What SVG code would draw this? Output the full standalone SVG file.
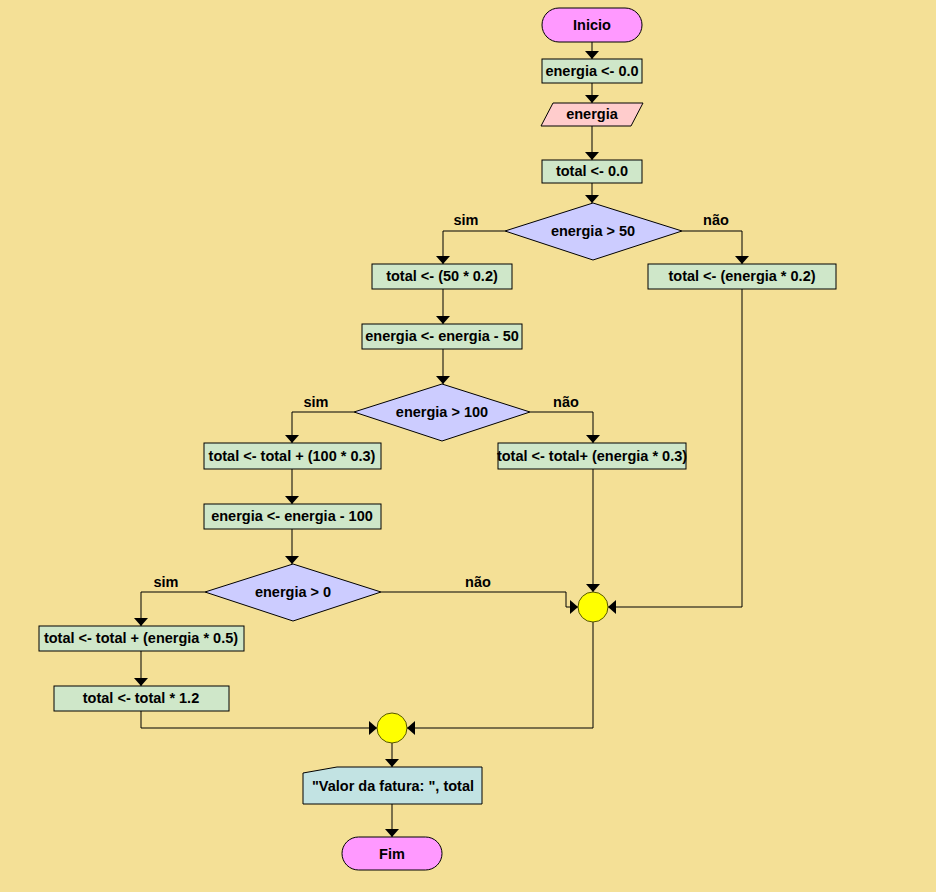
<svg xmlns="http://www.w3.org/2000/svg" width="936" height="892" viewBox="0 0 936 892">
  <style>
    text { font-family: "Liberation Sans", Arial, sans-serif; font-weight: bold; font-size: 14.5px; fill: #000; text-anchor: middle; }
    .term { fill: #FF99FF; stroke: #000; stroke-width: 1; }
    .proc { fill: #CFE7C9; stroke: #000; stroke-width: 1; }
    .inp { fill: #FFCCCC; stroke: #000; stroke-width: 1; }
    .dec { fill: #CCCCFF; stroke: #000; stroke-width: 1; }
    .join { fill: #FFFF00; stroke: #555500; stroke-width: 1; }
    .out { fill: #C2E3E3; stroke: #000; stroke-width: 1; }
    .edge { fill: none; stroke: #000; stroke-width: 1; marker-end: url(#arrow); }
  </style>
  <defs>
    <marker id="arrow" markerUnits="userSpaceOnUse" markerWidth="16" markerHeight="16" refX="8" refY="7" orient="auto">
      <path d="M0,0 L8,7 L0,14 Z" fill="#000"/>
    </marker>
  </defs>

  <rect width="936" height="892" fill="#F4E096"/>

  <!-- connectors -->
  <g id="connectors">
    <path class="edge" d="M592,42 V59"/>
    <path class="edge" d="M592,83 V103"/>
    <path class="edge" d="M592,126 V160"/>
    <path class="edge" d="M592,183 V203"/>
    <path class="edge" d="M505,231 H443 V264"/>
    <path class="edge" d="M682,231 H742 V264"/>
    <path class="edge" d="M443,289 V324"/>
    <path class="edge" d="M443,349 V384"/>
    <path class="edge" d="M354,412 H292 V443"/>
    <path class="edge" d="M530,412 H593 V443"/>
    <path class="edge" d="M292,469 V504"/>
    <path class="edge" d="M292,529 V564"/>
    <path class="edge" d="M205,592 H141 V626"/>
    <path class="edge" d="M141,651 V686"/>
    <path class="edge" d="M381,592 H566 V607 H578"/>
    <path class="edge" d="M593,469 V592"/>
    <path class="edge" d="M742,289 V607 H608"/>
    <path class="edge" d="M593,622 V728 H407"/>
    <path class="edge" d="M141,711 V728 H377"/>
    <path class="edge" d="M392,743 V767"/>
    <path class="edge" d="M392,804 V837"/>
    <text x="466" y="225">sim</text>
    <text x="716" y="225">não</text>
    <text x="316" y="407">sim</text>
    <text x="566" y="407">não</text>
    <text x="166" y="587">sim</text>
    <text x="478" y="587">não</text>
  </g>

  <g id="inicio">
    <rect class="term" x="542" y="8" width="100" height="34" rx="17"/>
    <text x="592" y="30">Inicio</text>
  </g>
  <g id="energia-zero">
    <rect class="proc" x="542" y="59" width="100" height="24"/>
    <text x="592" y="76">energia &lt;- 0.0</text>
  </g>
  <g id="ler-energia">
    <polygon class="inp" points="553,103 643,103 631,126 541,126"/>
    <text x="592" y="119">energia</text>
  </g>
  <g id="total-zero">
    <rect class="proc" x="542" y="160" width="100" height="23"/>
    <text x="592" y="176">total &lt;- 0.0</text>
  </g>
  <g id="dec-50">
    <polygon class="dec" points="593,203 682,231 593,260 505,231"/>
    <text x="593" y="236">energia &gt; 50</text>
  </g>
  <g id="total-50">
    <rect class="proc" x="372" y="264" width="140" height="25"/>
    <text x="442" y="281">total &lt;- (50 * 0.2)</text>
  </g>
  <g id="total-energia-02">
    <rect class="proc" x="648" y="264" width="188" height="25"/>
    <text x="742" y="281">total &lt;- (energia * 0.2)</text>
  </g>
  <g id="energia-menos-50">
    <rect class="proc" x="362" y="324" width="160" height="25"/>
    <text x="442" y="341">energia &lt;- energia - 50</text>
  </g>
  <g id="dec-100">
    <polygon class="dec" points="442,384 530,412 442,441 354,412"/>
    <text x="442" y="417">energia &gt; 100</text>
  </g>
  <g id="total-100">
    <rect class="proc" x="204" y="443" width="177" height="26"/>
    <text x="292" y="461">total &lt;- total + (100 * 0.3)</text>
  </g>
  <g id="total-energia-03">
    <rect class="proc" x="498" y="443" width="188" height="26"/>
    <text x="592" y="461">total &lt;- total+ (energia * 0.3)</text>
  </g>
  <g id="energia-menos-100">
    <rect class="proc" x="204" y="504" width="177" height="25"/>
    <text x="292" y="521">energia &lt;- energia - 100</text>
  </g>
  <g id="dec-0">
    <polygon class="dec" points="293,564 381,592 293,621 205,592"/>
    <text x="293" y="597">energia &gt; 0</text>
  </g>
  <g id="total-energia-05">
    <rect class="proc" x="39" y="626" width="205" height="25"/>
    <text x="141" y="643">total &lt;- total + (energia * 0.5)</text>
  </g>
  <g id="total-12">
    <rect class="proc" x="54" y="686" width="175" height="25"/>
    <text x="141" y="703">total &lt;- total * 1.2</text>
  </g>
  <g id="juncao-1">
    <circle class="join" cx="593" cy="607" r="15"/>
  </g>
  <g id="juncao-2">
    <circle class="join" cx="392" cy="728" r="15"/>
  </g>
  <g id="escrever">
    <polygon class="out" points="303,773 337,767 482,767 482,804 303,804"/>
    <text x="393" y="791">"Valor da fatura: ", total</text>
  </g>
  <g id="fim">
    <rect class="term" x="342" y="837" width="100" height="33" rx="16.5"/>
    <text x="392" y="859">Fim</text>
  </g>
</svg>
